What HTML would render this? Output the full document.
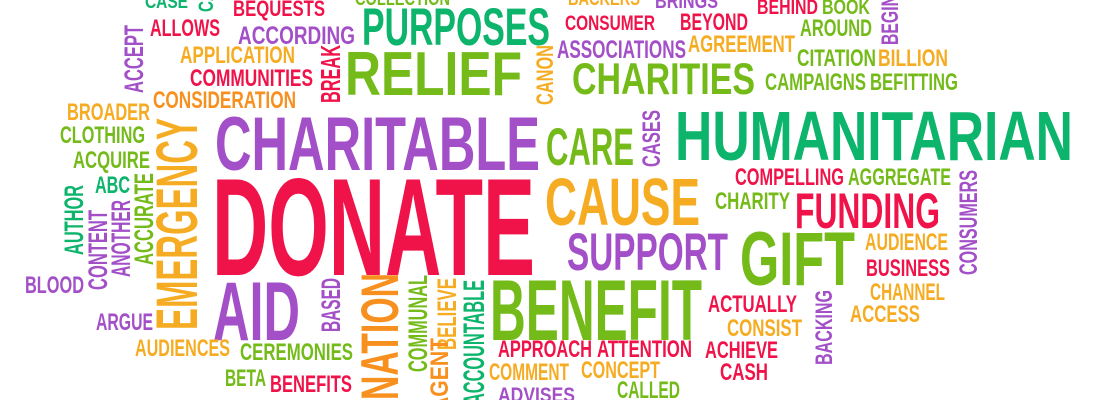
<!DOCTYPE html>
<html><head><meta charset="utf-8">
<style>
html,body{margin:0;padding:0;background:#fff;width:1100px;height:400px;overflow:hidden}
svg{display:block}
text{font-family:"Liberation Sans Narrow","Liberation Sans",sans-serif;font-weight:bold}
</style></head>
<body>
<svg id="cloud" width="1100" height="400" viewBox="0 0 1100 400" xmlns="http://www.w3.org/2000/svg"></svg>
<script>
const R='#f0134a',P='#a24fc8',G='#74bb1a',T='#0cb46c',O='#f6ac22',OR='#f7901e';
// horizontal words: [text, color, left, right, baseline, capHeight]
const hWords=[
['CASE',T,145,188,8,14],['BEQUESTS',R,233,325,16,16],['COLLECTION',G,355,450,5,14],
['BACKERS',O,568,640,5,14],['BRINGS',P,655,718,8,15],['BEHIND',R,757,818,14,15],['BOOK',G,822,870,14,15],
['ALLOWS',R,150,220,36,17],['ACCORDING',P,238,355,44,18],['PURPOSES',T,362,550,45,38],
['CONSUMER',R,565,655,30,15],['BEYOND',R,680,748,30,17],['AROUND',G,800,872,36,17],
['ASSOCIATIONS',P,557,686,58,18],['AGREEMENT',O,688,795,52,17],['APPLICATION',O,180,295,63,17],
['CITATION',G,797,876,66,17],['BILLION',O,878,948,66,17],['RELIEF',G,345,522,95,45],
['COMMUNITIES',R,190,313,86,17],['CHARITIES',G,572,755,94,32],['CAMPAIGNS',G,765,866,90,17],
['BEFITTING',G,870,958,90,17],['CONSIDERATION',OR,153,296,108,17],['BROADER',O,67,150,120,17],
['CLOTHING',G,60,145,143,17],['CHARITABLE',P,215,540,170,55],['CARE',G,546,634,165,38],
['HUMANITARIAN',T,675,1073,160,50],['ACQUIRE',G,73,150,168,17],['ABC',T,95,130,193,17],
['COMPELLING',R,735,844,185,17],['AGGREGATE',G,848,951,185,17],['DONATE',R,212,535,275,100],
['CAUSE',O,545,700,225,48],['CHARITY',G,715,790,209,17],['FUNDING',R,795,940,228,36],
['SUPPORT',P,567,728,270,38],['GIFT',G,740,855,285,55],['AUDIENCE',O,865,948,250,17],
['BUSINESS',R,866,950,276,17],['BLOOD',P,25,84,293,17],['AID',P,213,300,340,60],
['BENEFIT',G,490,702,340,62],['CHANNEL',O,870,945,300,17],['ACTUALLY',R,708,797,312,17],
['ACCESS',O,850,920,322,17],['ARGUE',P,96,153,330,17],['CONSIST',O,727,802,336,17],
['AUDIENCES',O,135,230,356,17],['APPROACH',R,498,592,357,17],['ATTENTION',R,597,692,357,17],
['ACHIEVE',R,705,778,358,17],['CEREMONIES',G,240,353,360,17],['COMMENT',O,489,569,380,17],
['CONCEPT',O,581,660,378,17],['CASH',R,720,768,380,17],['BETA',G,225,266,386,17],
['BENEFITS',R,270,352,392,17],['ADVISES',P,498,575,402,15],['CALLED',G,617,680,398,17]
];
// vertical words: [text, color, right edge (baseline), top, bottom, capWidth]
const vWords=[
['ACCEPT',P,143,25,93,19],['BREAK',R,340,45,103,20],['CANON',O,553,45,105,17],
['BEGIN',P,898,-5,45,17],['CASES',P,660,110,167,18],['EMERGENCY',O,197,118,330,42],
['AUTHOR',T,83,185,255,19],['CONTENT',P,107,210,290,19],['ANOTHER',P,130,200,277,19],
['ACCURATE',G,153,173,265,19],['CONSUMERS',P,977,170,275,18],['BASED',P,340,278,332,19],
['NATION',OR,398,273,400,38],['COMMUNAL',G,427,275,372,19],['BELIEVE',O,456,278,350,19],
['AGENT',OR,448,338,412,18],['ACCOUNTABLE',T,484,280,405,21],['BACKING',P,832,290,365,17],
['CASE',T,213,-30,12,15]
];
const svg=document.getElementById('cloud');
const NS='http://www.w3.org/2000/svg';
const CAP=0.72;
hWords.forEach(w=>{
  const t=document.createElementNS(NS,'text');
  t.setAttribute('x',w[2]);t.setAttribute('y',w[4]);
  t.setAttribute('font-size',(w[5]/CAP).toFixed(1));
  t.setAttribute('fill',w[1]);
  t.setAttribute('textLength',w[3]-w[2]);
  t.setAttribute('lengthAdjust','spacingAndGlyphs');
  t.textContent=w[0];
  
  
  svg.appendChild(t);
});
vWords.forEach(w=>{
  const t=document.createElementNS(NS,'text');
  t.setAttribute('transform','translate('+w[2]+','+w[4]+') rotate(-90)');
  t.setAttribute('x',0);t.setAttribute('y',0);
  t.setAttribute('font-size',(w[5]/CAP).toFixed(1));
  t.setAttribute('fill',w[1]);
  t.setAttribute('textLength',w[4]-w[3]);
  t.setAttribute('lengthAdjust','spacingAndGlyphs');
  t.textContent=w[0];
  
  
  svg.appendChild(t);
});
</script>
</body></html>
